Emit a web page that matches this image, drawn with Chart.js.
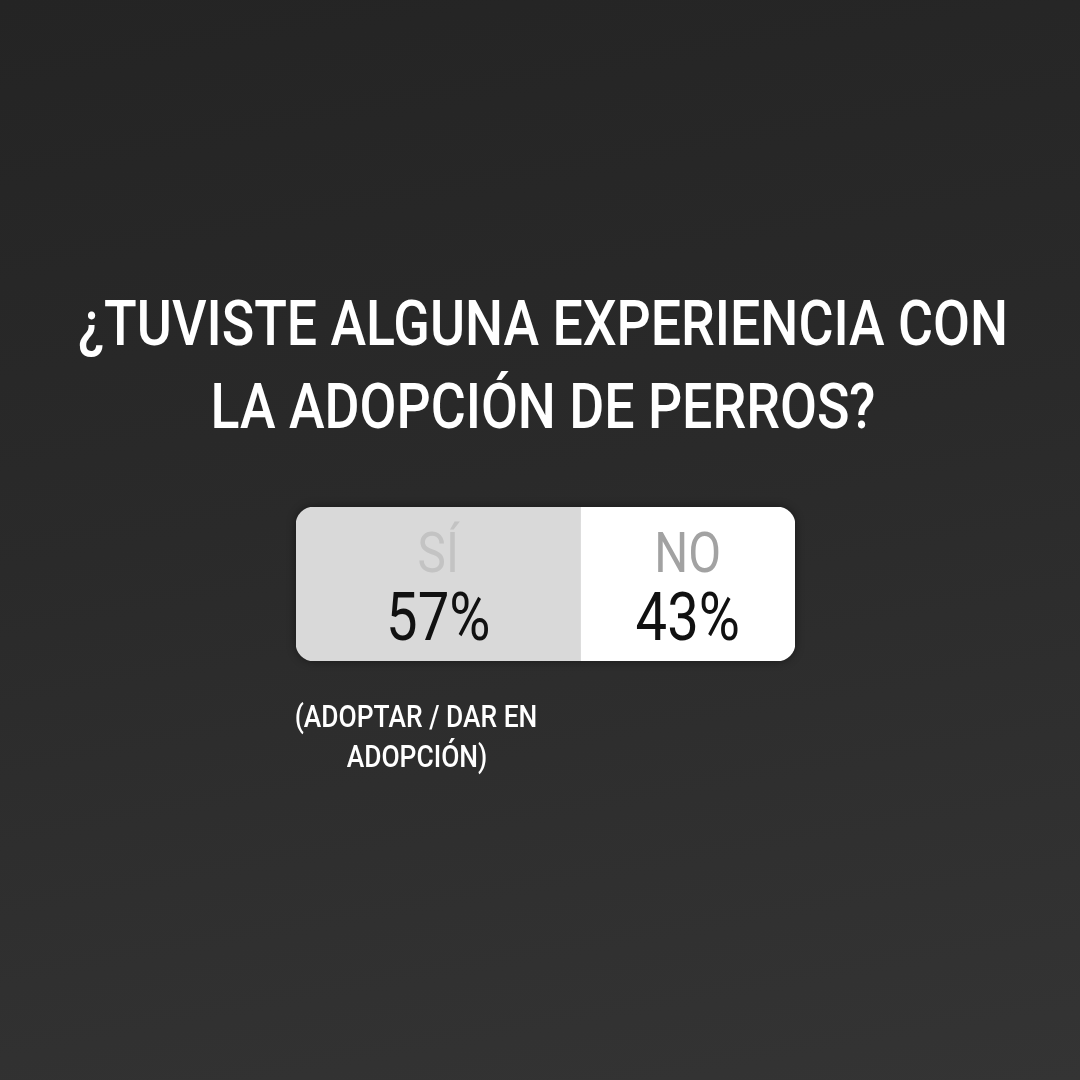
<!DOCTYPE html>
<html>
<head>
<meta charset="utf-8">
<script src="https://cdn.jsdelivr.net/npm/chart.js@4.4.0/dist/chart.umd.min.js"></script>
<style>
  html, body { margin:0; padding:0; width:1080px; height:1080px; overflow:hidden; }
  body { background: linear-gradient(170deg, #242424 0%, #2a2a2a 45%, #343434 100%); }
  #wrap { position:absolute; left:0; top:0; width:1080px; height:1080px; }
</style>
</head>
<body>
<div id="wrap"><canvas id="c" width="1080" height="1080"></canvas></div>
<script>
// ---- data ----
const titleLines = ["¿TUVISTE ALGUNA EXPERIENCIA CON", "LA ADOPCIÓN DE PERROS?"];
const categories = ["Respuesta"];
const optionLabels = ["SÍ", "NO"];
const optionValues = [57, 43];
const noteLines = ["(ADOPTAR / DAR EN", "ADOPCIÓN)"];

// ---- styles ----
const FONT = "Roboto, 'Liberation Sans', 'DejaVu Sans', sans-serif";
const barColors = ["#d9d9d9", "#ffffff"];
const labelColors = ["#c3c3c3", "#a2a2a2"];
const R = 18;

function condensedText(ctx, text, cx, baseline, font, color, factor) {
  ctx.save();
  ctx.font = font;
  ctx.fillStyle = color;
  ctx.textAlign = "center";
  ctx.textBaseline = "alphabetic";
  ctx.translate(cx, baseline);
  ctx.scale(factor, 1);
  ctx.fillText(text, 0, 0);
  ctx.restore();
}

const textPlugin = {
  id: "textPlugin",
  beforeDatasetsDraw(chart) {
    const ctx = chart.ctx;
    const area = chart.chartArea;
    // soft shadow under the poll bar
    ctx.save();
    ctx.shadowColor = "rgba(0,0,0,0.45)";
    ctx.shadowBlur = 10;
    ctx.fillStyle = "#2a2a2a";
    ctx.beginPath();
    ctx.roundRect(area.left, area.top, area.right - area.left, area.bottom - area.top, R);
    ctx.fill();
    ctx.restore();
  },
  afterDatasetsDraw(chart) {
    const ctx = chart.ctx;
    // condense factor from title line 1 width
    ctx.save();
    const titleFont = "500 63px " + FONT;
    ctx.font = titleFont;
    const w1 = ctx.measureText(titleLines[0]).width;
    ctx.restore();
    const f = 930 / w1;

    condensedText(ctx, titleLines[0], 543, 345, titleFont, "#ffffff", f);
    condensedText(ctx, titleLines[1], 543, 428, titleFont, "#ffffff", f);

    chart.data.datasets.forEach((ds, i) => {
      const el = chart.getDatasetMeta(i).data[0];
      const cx = (el.x + el.base) / 2;
      condensedText(ctx, optionLabels[i], cx, el.y - 12, "400 56px " + FONT, labelColors[i], f);
      condensedText(ctx, ds.data[0] + "%", cx, el.y + 56, "400 66px " + FONT, "#111111", f);
    });

    condensedText(ctx, noteLines[0], 416, 727, "500 31px " + FONT, "#ffffff", f);
    condensedText(ctx, noteLines[1], 417, 767, "500 31px " + FONT, "#ffffff", f);
  }
};

new Chart(document.getElementById("c"), {
  type: "bar",
  data: {
    labels: categories,
    datasets: optionLabels.map((lab, i) => ({
      label: lab,
      data: [optionValues[i]],
      backgroundColor: barColors[i],
      borderWidth: 0,
      borderSkipped: false,
      borderRadius: i === 0
        ? { topLeft: R, bottomLeft: R, topRight: 0, bottomRight: 0 }
        : { topLeft: 0, bottomLeft: 0, topRight: R, bottomRight: R },
      barPercentage: 1,
      categoryPercentage: 1
    }))
  },
  options: {
    indexAxis: "y",
    responsive: false,
    animation: false,
    layout: { padding: { left: 296, right: 285, top: 507, bottom: 419 } },
    scales: {
      x: { stacked: true, min: 0, max: 100, display: false },
      y: { stacked: true, display: false }
    },
    plugins: {
      legend: { display: false },
      tooltip: { enabled: false },
      title: { display: false }
    }
  },
  plugins: [textPlugin]
});
</script>
</body>
</html>
